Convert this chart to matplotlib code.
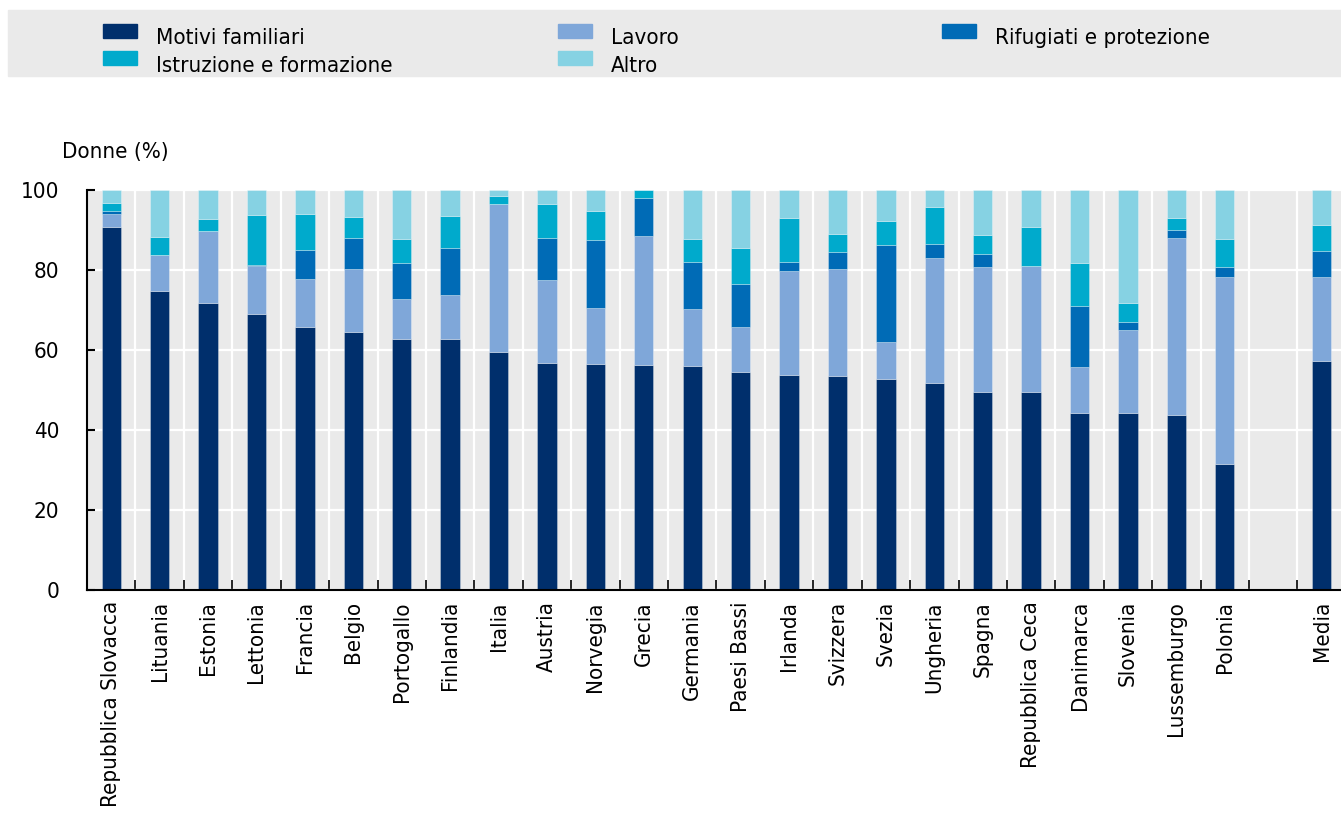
import numpy as np
import matplotlib
matplotlib.use("Agg")
import matplotlib.pyplot as plt
from matplotlib.patches import Rectangle

# --- Данные ---
paesi = ["Repubblica Slovacca", "Lituania", "Estonia", "Lettonia", "Francia", "Belgio",
         "Portogallo", "Finlandia", "Italia", "Austria", "Norvegia", "Grecia", "Germania",
         "Paesi Bassi", "Irlanda", "Svizzera", "Svezia", "Ungheria", "Spagna",
         "Repubblica Ceca", "Danimarca", "Slovenia", "Lussemburgo", "Polonia", "Media"]

motivi_familiari = [90.8, 74.8, 71.8, 69.1, 65.8, 64.5, 62.8, 62.75, 59.5, 56.75, 56.6, 56.25,
                    56.0, 54.6, 53.7, 53.5, 52.75, 51.8, 49.6, 49.5, 44.3, 44.25, 43.7, 31.4, 57.3]
lavoro = [3.2, 9.0, 17.95, 11.9, 11.95, 15.7, 9.9, 11.0, 36.9, 20.75, 13.9, 32.25,
          14.25, 11.1, 26.1, 26.7, 9.35, 31.2, 31.15, 31.5, 11.45, 20.75, 44.3, 46.85, 20.9]
rifugiati = [0.75, 0.0, 0.0, 0.3, 7.35, 7.9, 9.1, 11.85, 0.0, 10.6, 17.0, 9.6,
             11.85, 10.9, 2.1, 4.4, 24.2, 3.6, 3.15, 0.0, 15.35, 2.1, 2.1, 2.45, 6.55]
istruzione = [2.0, 4.5, 3.05, 12.45, 9.0, 5.2, 5.95, 8.0, 2.2, 8.4, 7.25, 1.9,
              5.6, 8.9, 11.1, 4.4, 6.0, 9.15, 4.9, 9.75, 10.7, 4.6, 3.0, 7.1, 6.45]
altro = [3.2, 11.7, 7.2, 6.3, 5.9, 6.7, 12.25, 6.4, 1.4, 3.5, 5.25, 0.0,
         12.3, 14.5, 7.0, 11.0, 7.7, 4.25, 11.2, 9.25, 18.2, 28.3, 6.9, 12.2, 8.8]

serie = [
    ("Motivi familiari", motivi_familiari, "#002F6C"),
    ("Lavoro", lavoro, "#7FA7D9"),
    ("Rifugiati e protezione", rifugiati, "#006BB6"),
    ("Istruzione e formazione", istruzione, "#00AACC"),
    ("Altro", altro, "#86D2E3"),
]

plt.rcParams['font.family'] = ['DejaVu Sans']
plt.rcParams['font.stretch'] = 'condensed'
FS = 16
GRIGIO = "#EAEAEA"

# posizioni: 24 paesi, uno spazio vuoto, poi la media
pos = np.array(list(range(len(paesi) - 1)) + [len(paesi)])

fig = plt.figure(figsize=(13.41, 8.16), dpi=100)
ax = fig.add_axes([87 / 1341, 1 - 590 / 816, 1 - 87 / 1341, 400 / 816])
ax.set_facecolor(GRIGIO)

bottom = np.zeros(len(paesi))
for nome, valori, colore in serie:
    v = np.array(valori)
    ax.bar(pos, v, 0.4, bottom=bottom, color=colore, edgecolor=(1, 1, 1, 0.35),
           linewidth=0.6, zorder=3, label=nome)
    bottom += v

ax.set_ylim(0, 100)
ax.set_xlim(-0.5, 25.4)
ax.set_yticks(np.arange(0, 101, 20))
ax.set_xticks(pos)
ax.set_xticklabels(paesi, rotation=90, fontsize=FS)
ax.set_xticks(np.arange(0.5, 25, 1), minor=True)
ax.tick_params(axis='y', direction='in', length=6, width=1.5, labelsize=FS, pad=20)
ax.tick_params(axis='x', which='major', length=0, pad=8)
ax.tick_params(axis='x', which='minor', direction='in', length=7, width=1.2)
ax.grid(axis='y', color='white', linewidth=1.6, zorder=1)
ax.grid(axis='x', which='minor', color='white', linewidth=1.6, zorder=1)
for s in ['top', 'right']:
    ax.spines[s].set_visible(False)
for s in ['left', 'bottom']:
    ax.spines[s].set_linewidth(1.5)
    ax.spines[s].set_zorder(4)

fig.text(62 / 1341, 1 - 158 / 816, "Donne (%)", fontsize=FS, va='baseline', ha='left')

# --- Legenda ---
fig.patches.append(Rectangle((8 / 1341, 1 - 76 / 816), 1, 66 / 816,
                             transform=fig.transFigure, color=GRIGIO, zorder=0))
colonne = [103, 558, 942]
righe = [(24, 44), (51, 72)]
for i, (nome, _, colore) in enumerate(serie):
    c, r = i % 3, i // 3
    x0 = colonne[c]
    ytop, ybase = righe[r]
    fig.patches.append(Rectangle((x0 / 1341, 1 - (ytop + 14) / 816), 34 / 1341, 14 / 816,
                                 transform=fig.transFigure, color=colore, zorder=1))
    fig.text((x0 + 53) / 1341, 1 - ybase / 816, nome, fontsize=FS, va='baseline', ha='left')

fig.savefig("out.png", dpi=100)
